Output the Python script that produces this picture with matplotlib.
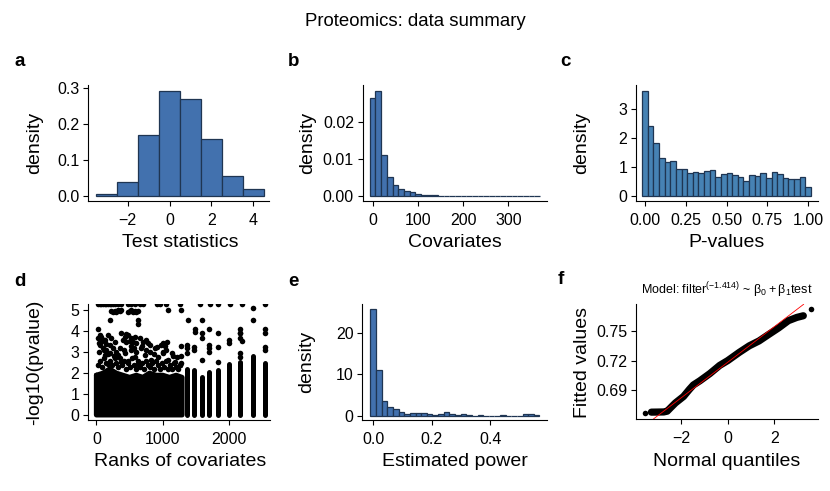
"""Proteomics data summary: six-panel overview (histograms, scatter, QQ)."""

import matplotlib

matplotlib.use("Agg")
import matplotlib.pyplot as plt
import numpy as np

plt.rcParams["font.family"] = ["Liberation Sans", "DejaVu Sans"]
plt.rcParams["mathtext.fontset"] = "custom"
plt.rcParams["mathtext.rm"] = "Liberation Sans"
plt.rcParams["mathtext.default"] = "regular"

# --- a: test statistics (bin centres, density) ---
a_centers = [-3, -2, -1, 0, 1, 2, 3, 4]
a_heights = [0.005, 0.038, 0.170, 0.292, 0.270, 0.159, 0.055, 0.019]

# --- b: covariates (30 bins) ---
b_start, b_width = -6.27, 12.55
b_heights = [0.0265, 0.0284, 0.0110, 0.0052, 0.0030, 0.0019, 0.0013, 0.0010,
             0.0005, 0.0003, 0.0002, 0.0002] + [0.0] * 18

# --- c: p-values (30 bins) ---
c_start, c_width = -0.0172, 0.0345
c_heights = [3.62, 2.41, 1.82, 1.30, 1.17, 1.20, 0.92, 0.92, 0.78, 0.82,
             0.78, 0.85, 0.89, 0.65, 0.75, 0.78, 0.72, 0.65, 0.51, 0.72,
             0.68, 0.78, 0.61, 0.82, 0.75, 0.61, 0.58, 0.58, 0.65, 0.30]

# --- d: -log10(p) vs covariate rank ---
d_block_rank = [0, 100, 200, 300, 400, 500, 600, 700, 800, 900, 1000, 1100, 1200, 1290]
d_block_top = [1.9, 2.0, 2.2, 2.0, 1.9, 1.8, 1.9, 1.8, 2.0, 1.9, 1.9, 1.8, 1.9, 1.8]
d_col_rank = [1357, 1472, 1583, 1698, 1834, 1995, 2156, 2362, 2538]
d_col_top = [2.19, 2.14, 1.83, 2.07, 2.15, 2.46, 2.54, 2.82, 2.50]
d_pt_rank = [
    # clipped top row
    25, 75, 126, 176, 226, 276, 327, 377, 477, 528, 578, 653, 704, 905, 955,
    1055, 1256, 1558, 1709, 1834, 2010, 2186, 2538, 50, 100, 150, 200, 250,
    # around 4-5
    226, 251, 276, 302, 327, 352, 377, 477, 503, 528, 553, 578, 603, 628,
    1080, 1281, 2362, 201, 628, 628, 25, 1372, 1583, 1482, 1482, 1698, 2156,
    2362, 2538, 2186, 2156,
    # left cluster 3-4
    25, 75, 126, 176, 226, 50, 100, 201, 151, 276, 251, 40, 90, 140, 60, 110,
    377, 427, 477, 528, 578, 452, 553, 653, 754, 779, 704, 804, 905, 1005,
    400, 500, 600, 450, 520, 680, 1030, 1060,
    # left cluster 2.3-3.2
    126, 201, 276, 327, 377, 176, 427, 477, 528, 578, 628, 678, 729, 804,
    829, 880, 930, 980, 1005, 1055, 1080, 1131, 1181, 1206, 1256,
    30, 60, 90, 120, 150, 180, 210, 240, 270, 300, 330, 360, 390, 420, 450,
    480, 510, 540, 570, 600, 630, 660, 690, 720, 750, 780, 810, 840, 870,
    900, 930, 960, 990, 1020, 1050, 1080, 1110, 1140, 1170, 1200, 1230, 1260,
    40, 110, 300, 350, 420, 560, 600, 740, 1000, 860, 1150,
    # column outliers
    1357, 1357, 1357, 1472, 1472, 1583, 1583, 1583, 1698, 1698, 1698,
    1834, 1834, 1834, 1995, 1995, 2156, 2156, 2156, 2156, 2538, 2538, 2538,
    1281, 1281, 1281,
]
d_pt_y = [
    5.3, 5.3, 5.3, 5.3, 5.3, 5.3, 5.3, 5.3, 5.3, 5.3, 5.3, 5.3, 5.3, 5.3, 5.3,
    5.3, 5.3, 5.3, 5.3, 5.3, 5.3, 5.3, 5.3, 5.3, 5.3, 5.3, 5.3, 5.3,
    4.95, 4.90, 4.95, 4.90, 5.0, 4.95, 5.0, 4.9, 4.95, 5.0, 4.9, 4.95, 4.9, 4.95,
    5.0, 5.0, 5.09, 4.53, 4.53, 4.37, 4.13, 4.53, 4.53, 4.13, 3.97, 4.13, 4.13,
    4.53, 4.13, 3.55, 3.9,
    3.66, 3.74, 3.58, 3.82, 3.66, 3.34, 3.18, 3.34, 3.10, 3.50, 3.18, 3.45, 3.55, 3.4, 3.8, 3.6,
    3.90, 3.74, 3.82, 3.66, 3.74, 3.50, 3.50, 3.66, 3.58, 3.42, 3.50, 3.34, 3.26, 3.42,
    3.6, 3.55, 3.45, 3.85, 3.3, 3.3, 3.3, 3.5,
    2.86, 2.94, 2.70, 2.86, 2.54, 2.46, 2.94, 2.60, 3.10, 2.78, 2.46, 3.18, 2.86, 3.02,
    2.62, 3.18, 2.78, 3.34, 2.94, 3.10, 2.62, 2.94, 2.54, 2.78, 2.38,
    2.4, 2.6, 2.3, 2.7, 2.5, 2.9, 2.6, 2.4, 2.8, 2.5, 2.3, 2.7, 2.4, 2.6, 2.2,
    2.5, 2.3, 2.7, 2.4, 2.2, 2.6, 2.3, 2.5, 2.2, 2.6, 2.4, 2.3, 2.5, 2.2,
    2.6, 2.4, 2.2, 2.5, 2.3, 2.6, 2.2, 2.4, 2.2, 2.5, 2.3, 2.2, 2.4,
    3.0, 3.1, 3.0, 3.2, 3.1, 3.2, 3.0, 3.1, 3.0, 2.9, 2.8,
    3.34, 3.18, 2.94, 3.26, 3.10, 3.90, 3.66, 2.62, 3.34, 3.18, 3.02,
    3.90, 3.26, 2.54, 3.58, 3.42, 3.90, 3.66, 2.94, 2.78, 3.90, 3.26, 3.10,
    2.5, 2.8, 3.3,
]

# --- e: estimated power (30 bins) ---
e_start, e_width = -0.0097, 0.0193
e_heights = [25.9, 11.2, 3.6, 2.1, 1.6, 0.9, 0.4, 0.65, 0.65, 0.65,
             0.4, 0.16, 0.4, 0.9, 0.4, 0.16, 0.4, 0.16, 0.0, 0.16,
             0.0, 0.0, 0.0, 0.16, 0.0, 0.0, 0.0, 0.4, 0.4, 0.16]

# --- f: QQ plot of fitted values ---
f_q = [-3.28, -3.0, -2.75, -2.6, -2.46, -2.25, -1.9, -1.65, -1.48, -1.2, -0.77,
       -0.35, 0.0, 0.49, 0.92, 1.34, 1.76, 2.18, 2.6, 2.96, 3.24]
f_fit = [0.6673, 0.6674, 0.6675, 0.6683, 0.6717, 0.6767, 0.6833, 0.6905, 0.6950,
         0.6993, 0.7067, 0.7150, 0.7200, 0.7283, 0.7350, 0.7400, 0.7467, 0.7533,
         0.7607, 0.7640, 0.7657]
f_out_q = [-3.55, 3.55]
f_out_fit = [0.6667, 0.7727]
f_intercept, f_slope = 0.7183, 0.01817

FILL = "#4271AE"
EDGE = "#1F3552"
W, H = 830, 491

fig = plt.figure(figsize=(W / 100, H / 100), dpi=100)


def px_axes(left, right, top, bottom):
    return fig.add_axes([left / W, 1 - bottom / H, (right - left) / W, (bottom - top) / H])


def style(ax, xlabel, ylabel, xlab_pos, ylab_pos):
    for s in ("top", "right"):
        ax.spines[s].set_visible(False)
    for s in ("left", "bottom"):
        ax.spines[s].set_linewidth(0.8)
    ax.tick_params(direction="out", length=3.8, width=0.8, labelsize=11.5, colors="black")
    ax.tick_params(axis="x", pad=4.5)
    ax.tick_params(axis="y", pad=2.5)
    ax.set_xlabel(xlabel, fontsize=14, va="center")
    ax.set_ylabel(ylabel, fontsize=14, va="center")
    ax.xaxis.set_label_coords(xlab_pos[0] / W, 1 - xlab_pos[1] / H, transform=fig.transFigure)
    ax.yaxis.set_label_coords(ylab_pos[0] / W, 1 - ylab_pos[1] / H, transform=fig.transFigure)


def label(x, y, s):
    fig.text(x / W, 1 - y / H, s, fontsize=13.5, fontweight="bold", ha="left", va="center")


fig.text(0.5, 1 - 21 / H, "Proteomics: data summary", fontsize=13.4, ha="center", va="center")

# a
ax = px_axes(88, 269, 85, 201)
ax.bar(a_centers, a_heights, width=1.0, color=FILL, edgecolor=EDGE, linewidth=0.9)
ax.set_xlim(-3.9, 4.75)
ax.set_ylim(-0.0138, 0.3075)
ax.set_xticks([-2, 0, 2, 4])
ax.set_yticks([0.0, 0.1, 0.2, 0.3])
ax.set_yticklabels(["0.0", "0.1", "0.2", "0.3"])
style(ax, "Test statistics", "density", (180, 242), (35, 143))
label(14, 62, "a")

# b
ax = px_axes(362.7, 546.7, 85, 201)
b_left = b_start + b_width * np.arange(len(b_heights))
ax.bar(b_left, b_heights, width=b_width, align="edge", color=FILL, edgecolor=EDGE, linewidth=0.9)
ax.set_xlim(-22, 384.7)
ax.set_ylim(-0.00136, 0.0301)
ax.set_xticks([0, 100, 200, 300])
ax.set_yticks([0.0, 0.01, 0.02])
ax.set_yticklabels(["0.00", "0.01", "0.02"])
style(ax, "Covariates", "density", (455, 242), (308, 143))
label(288, 62, "b")

# c
ax = px_axes(636, 818, 85, 201)
c_left = c_start + c_width * np.arange(len(c_heights))
ax.bar(c_left, c_heights, width=c_width, align="edge", color="#4682B4", edgecolor=EDGE, linewidth=0.9)
ax.set_xlim(-0.055, 1.061)
ax.set_ylim(-0.173, 3.84)
ax.set_xticks([0, 0.25, 0.5, 0.75, 1.0])
ax.set_xticklabels(["0.00", "0.25", "0.50", "0.75", "1.00"])
ax.set_yticks([0, 1, 2, 3])
style(ax, "P-values", "density", (727, 242), (582, 143))
label(560, 62, "c")

# d
ax = px_axes(88, 270, 304.3, 420)
ax.fill_between(d_block_rank, 0, d_block_top, color="black", linewidth=0)
ax.plot(d_block_rank + d_block_rank[::-1] + [d_block_rank[0]],
        d_block_top + [0] * len(d_block_rank) + [d_block_top[0]],
        color="black", lw=3.6, solid_joinstyle="round", solid_capstyle="round")
ax.vlines(d_col_rank, 0, d_col_top, color="black", lw=3.6, capstyle="round")
ax.scatter(d_pt_rank, d_pt_y, s=16, color="black", linewidths=0)
ax.set_xlim(-126, 2613)
ax.set_ylim(-0.24, 5.29)
ax.set_xticks([0, 1000, 2000])
ax.set_yticks([0, 1, 2, 3, 4, 5])
style(ax, "Ranks of covariates", "-log10(pvalue)", (180, 462), (35, 362))
label(14, 281, "d")

# e
ax = px_axes(362.3, 546.7, 304.3, 420)
e_left = e_start + e_width * np.arange(len(e_heights))
ax.bar(e_left, e_heights, width=e_width, align="edge", color=FILL, edgecolor=EDGE, linewidth=0.9)
ax.set_xlim(-0.0377, 0.594)
ax.set_ylim(-1.05, 27.04)
ax.set_xticks([0.0, 0.2, 0.4])
ax.set_yticks([0, 10, 20])
style(ax, "Estimated power", "density", (455, 462), (307, 362))
label(288, 281, "e")

# f
ax = px_axes(636, 818, 304.3, 419.3)
ax.plot(f_q, f_fit, color="black", lw=5.2, solid_capstyle="round", solid_joinstyle="round")
ax.scatter(f_out_q, f_out_fit, s=16, color="black", linewidths=0)
ax.axline((0, f_intercept), slope=f_slope, color="red", lw=0.6)
ax.set_xlim(-3.94, 3.87)
ax.set_ylim(0.66, 0.7774)
ax.set_xticks([-2, 0, 2])
ax.set_yticks([0.69, 0.72, 0.75])
style(ax, "Normal quantiles", "Fitted values", (727, 462), (582, 362))
ax.set_title(r"Model: filter$^{(-1.414)}$ ~ $\beta_0+\beta_1$test", fontsize=9, pad=7)
label(558, 280, "f")

fig.savefig("out.png", dpi=100)
